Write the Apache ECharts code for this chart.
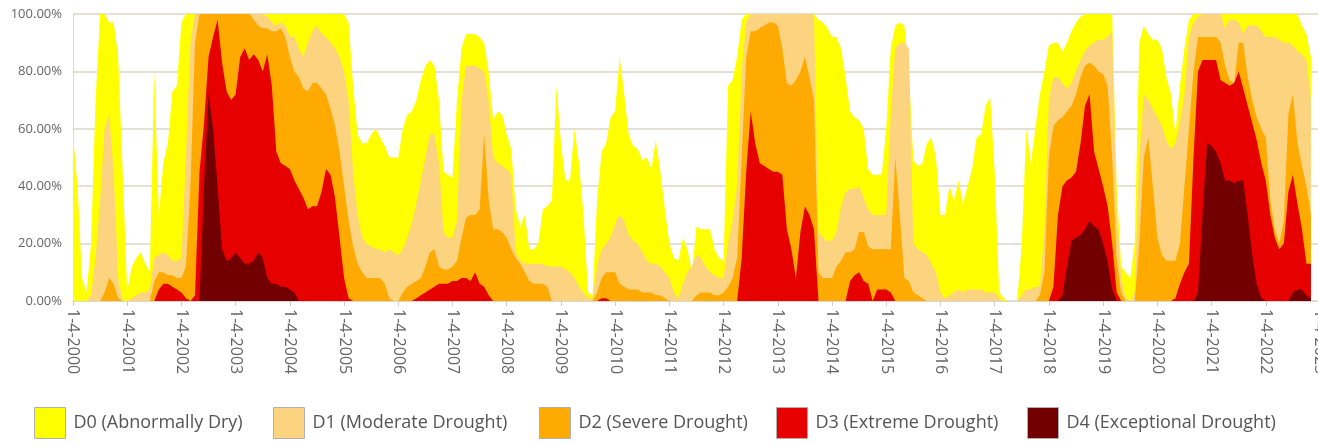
<!DOCTYPE html>
<html>
<head>
<meta charset="utf-8">
<script src="https://cdn.jsdelivr.net/npm/echarts@6/dist/echarts.min.js"></script>
<style>
html, body { margin: 0; padding: 0; background: #fff; }
#chart { width: 1318px; height: 445px; }
</style>
</head>
<body>
<div id="chart"></div>
<script>
// percent of area, one sample per month from 1-4-2000
var d0 = [
    58, 40, 8, 3, 20, 70, 100, 100, 97, 97, 85, 45,
    3, 12, 15, 17, 13, 10, 80, 30, 48, 55, 73, 75,
    97, 100, 100, 100, 100, 100, 100, 100, 100, 100, 100, 100,
    100, 100, 100, 100, 100, 100, 100, 100, 100, 100, 100, 100,
    100, 100, 100, 100, 100, 100, 100, 100, 100, 100, 100, 100,
    100, 97, 75, 58, 55, 55, 58, 60, 57, 54, 50, 50,
    50, 60, 65, 66, 70, 77, 82, 84, 82, 70, 45, 44,
    43, 70, 88, 93, 93, 93, 92, 90, 80, 63, 66, 65,
    58, 53, 32, 26, 30, 18, 18, 20, 32, 33, 35, 75,
    55, 42, 42, 60, 48, 30, 3, 2, 35, 52, 55, 64,
    66, 85, 72, 58, 54, 53, 49, 50, 46, 56, 45, 32,
    20, 15, 14, 22, 18, 10, 26, 25, 25, 25, 18, 15,
    14, 75, 77, 85, 98, 100, 100, 100, 100, 100, 100, 100,
    100, 100, 100, 100, 100, 100, 100, 100, 100, 98, 97, 95,
    92, 92, 88, 78, 66, 64, 63, 60, 46, 44, 44, 44,
    60, 88, 96, 97, 96, 80, 49, 47, 48, 55, 57, 50,
    30, 30, 40, 35, 42, 34, 40, 46, 57, 58, 68, 71,
    45, 3, 1, 0, 0, 0, 20, 60, 48, 60, 72, 80,
    89, 90, 90, 87, 90, 94, 97, 99, 100, 100, 100, 100,
    100, 100, 100, 40, 12, 10, 8, 20, 90, 96, 93, 91,
    91, 88, 78, 72, 58, 75, 88, 98, 100, 100, 100, 100,
    100, 100, 100, 100, 100, 100, 100, 100, 100, 100, 100, 100,
    100, 100, 100, 100, 100, 100, 100, 100, 96, 93, 85
];
var d1 = [
    0, 0, 0, 0, 2, 15, 35, 60, 65, 45, 8, 0,
    0, 1, 2, 3, 3, 4, 15, 16, 17, 16, 14, 14,
    15, 50, 90, 100, 100, 100, 100, 100, 100, 100, 100, 100,
    100, 100, 100, 100, 100, 100, 100, 99, 97, 96, 97, 96,
    92, 92, 88, 85, 90, 94, 96, 93, 92, 90, 88, 85,
    80, 70, 45, 30, 22, 20, 19, 18, 18, 17, 18, 17,
    16, 18, 22, 27, 34, 42, 50, 58, 58, 48, 24, 22,
    22, 28, 70, 82, 82, 82, 81, 80, 70, 50, 48, 47,
    46, 44, 17, 14, 13, 13, 13, 13, 13, 12, 12, 12,
    12, 11, 10, 8, 5, 3, 1, 1, 12, 18, 20, 22,
    27, 30, 28, 23, 21, 20, 17, 14, 13, 13, 12, 10,
    8, 3, 1, 6, 10, 12, 16, 15, 12, 10, 9, 8,
    8, 20, 28, 40, 80, 97, 100, 100, 100, 100, 100, 100,
    100, 100, 100, 100, 100, 100, 100, 100, 100, 24, 22, 21,
    21, 24, 33, 38, 39, 39, 40, 36, 32, 30, 30, 30,
    30, 65, 88, 90, 90, 88, 20, 18, 17, 16, 13, 10,
    3, 1, 2, 3, 4, 3, 4, 4, 4, 4, 3, 3,
    3, 1, 0, 0, 0, 0, 2, 4, 4, 5, 5, 25,
    70, 78, 78, 76, 74, 76, 80, 84, 87, 89, 90, 91,
    91, 92, 94, 30, 8, 1, 0, 3, 50, 72, 70, 67,
    64, 61, 56, 53, 55, 62, 72, 92, 97, 99, 100, 100,
    100, 100, 100, 95, 98, 98, 97, 93, 96, 96, 96, 94,
    92, 92, 92, 91, 90, 90, 89, 87, 86, 84, 70
];
var d2 = [
    0, 0, 0, 0, 0, 0, 0, 3, 8, 6, 1, 0,
    0, 0, 0, 0, 0, 0, 7, 10, 10, 9, 9, 8,
    8, 12, 40, 90, 100, 100, 100, 100, 100, 100, 100, 100,
    100, 100, 100, 100, 98, 96, 95, 95, 94, 94, 95, 92,
    85, 80, 78, 74, 73, 76, 76, 74, 72, 67, 61, 52,
    40, 28, 19, 13, 10, 8, 8, 8, 8, 6, 1, 0,
    0, 3, 5, 6, 7, 8, 12, 17, 18, 12, 11, 11,
    12, 14, 22, 29, 30, 30, 32, 58, 35, 25, 25, 24,
    22, 18, 15, 13, 10, 7, 6, 6, 6, 5, 0, 0,
    0, 0, 0, 0, 0, 0, 0, 0, 3, 8, 10, 10,
    10, 6, 5, 4, 4, 4, 3, 3, 3, 2, 2, 1,
    0, 0, 0, 0, 0, 0, 2, 3, 3, 3, 2, 2,
    3, 5, 8, 15, 50, 85, 94, 94, 95, 96, 97, 97,
    96, 88, 76, 75, 77, 80, 85, 78, 70, 10, 8, 8,
    8, 12, 14, 17, 17, 18, 24, 24, 19, 18, 18, 18,
    18, 18, 50, 30, 8, 7, 3, 2, 1, 0, 0, 0,
    0, 0, 0, 0, 0, 0, 0, 0, 0, 0, 0, 0,
    0, 0, 0, 0, 0, 0, 0, 0, 0, 0, 2, 10,
    50, 61, 63, 64, 66, 68, 72, 78, 82, 83, 82, 80,
    79, 75, 50, 15, 3, 0, 0, 0, 20, 50, 57, 40,
    22, 16, 14, 14, 14, 20, 40, 60, 80, 92, 92, 92,
    92, 92, 90, 82, 77, 76, 90, 90, 78, 70, 64, 60,
    57, 35, 25, 20, 28, 65, 72, 55, 47, 40, 30
];
var d3 = [
    0, 0, 0, 0, 0, 0, 0, 0, 0, 0, 0, 0,
    0, 0, 0, 0, 0, 0, 0, 4, 6, 6, 5, 4,
    3, 1, 0, 2, 45, 62, 85, 92, 98, 83, 73, 70,
    72, 85, 88, 84, 86, 84, 80, 86, 75, 52, 48, 47,
    46, 42, 39, 36, 32, 33, 33, 38, 46, 44, 36, 22,
    8, 1, 0, 0, 0, 0, 0, 0, 0, 0, 0, 0,
    0, 0, 0, 0, 1, 2, 3, 4, 5, 6, 6, 6,
    7, 7, 8, 8, 7, 10, 6, 5, 2, 0, 0, 0,
    0, 0, 0, 0, 0, 0, 0, 0, 0, 0, 0, 0,
    0, 0, 0, 0, 0, 0, 0, 0, 0, 1, 1, 0,
    0, 0, 0, 0, 0, 0, 0, 0, 0, 0, 0, 0,
    0, 0, 0, 0, 0, 0, 0, 0, 0, 0, 0, 0,
    0, 0, 0, 0, 15, 45, 66, 55, 48, 47, 46, 45,
    45, 44, 25, 18, 8, 24, 33, 30, 25, 0, 0, 0,
    0, 0, 0, 0, 7, 9, 10, 7, 6, 0, 4, 4,
    4, 3, 0, 0, 0, 0, 0, 0, 0, 0, 0, 0,
    0, 0, 0, 0, 0, 0, 0, 0, 0, 0, 0, 0,
    0, 0, 0, 0, 0, 0, 0, 0, 0, 0, 0, 0,
    0, 5, 30, 40, 42, 43, 45, 55, 68, 72, 52, 46,
    40, 33, 20, 3, 0, 0, 0, 0, 0, 0, 0, 0,
    0, 0, 0, 0, 1, 6, 10, 13, 50, 80, 84, 84,
    84, 84, 77, 76, 75, 76, 80, 74, 68, 62, 56, 48,
    42, 30, 22, 18, 20, 38, 44, 34, 25, 13, 13
];
var d4 = [
    0, 0, 0, 0, 0, 0, 0, 0, 0, 0, 0, 0,
    0, 0, 0, 0, 0, 0, 0, 0, 0, 0, 0, 0,
    0, 0, 0, 0, 0, 40, 72, 60, 40, 18, 14, 15,
    17, 15, 13, 13, 14, 17, 15, 8, 6, 6, 5, 5,
    4, 3, 0, 0, 0, 0, 0, 0, 0, 0, 0, 0,
    0, 0, 0, 0, 0, 0, 0, 0, 0, 0, 0, 0,
    0, 0, 0, 0, 0, 0, 0, 0, 0, 0, 0, 0,
    0, 0, 0, 0, 0, 0, 0, 0, 0, 0, 0, 0,
    0, 0, 0, 0, 0, 0, 0, 0, 0, 0, 0, 0,
    0, 0, 0, 0, 0, 0, 0, 0, 0, 0, 0, 0,
    0, 0, 0, 0, 0, 0, 0, 0, 0, 0, 0, 0,
    0, 0, 0, 0, 0, 0, 0, 0, 0, 0, 0, 0,
    0, 0, 0, 0, 0, 0, 0, 0, 0, 0, 0, 0,
    0, 0, 0, 0, 0, 0, 0, 0, 0, 0, 0, 0,
    0, 0, 0, 0, 0, 0, 0, 0, 0, 0, 0, 0,
    0, 0, 0, 0, 0, 0, 0, 0, 0, 0, 0, 0,
    0, 0, 0, 0, 0, 0, 0, 0, 0, 0, 0, 0,
    0, 0, 0, 0, 0, 0, 0, 0, 0, 0, 0, 0,
    0, 0, 0, 2, 12, 21, 22, 23, 25, 28, 26, 25,
    20, 14, 4, 0, 0, 0, 0, 0, 0, 0, 0, 0,
    0, 0, 0, 0, 0, 0, 0, 0, 0, 3, 30, 55,
    54, 52, 48, 42, 42, 41, 42, 42, 30, 16, 6, 1,
    0, 0, 0, 0, 0, 0, 3, 4, 4, 2, 1
];

var names = ['D0 (Abnormally Dry)', 'D1 (Moderate Drought)', 'D2 (Severe Drought)',
    'D3 (Extreme Drought)', 'D4 (Exceptional Drought)'];
var colors = ['#ffff00', '#fcd37f', '#ffaa00', '#e60000', '#730000'];
var levels = [d0, d1, d2, d3, d4];

// month categories 1-4-2000 ... 1-4-2023, a label every 12th
var dates = [];
for (var i = 0; i <= 276; i++) {
    dates.push((i % 12 + 1) + '-4-' + (2000 + Math.floor(i / 12)));
}

var legendLeft = [34, 273, 539, 776, 1027];

var chart = echarts.init(document.getElementById('chart'));
chart.setOption({
    animation: false,
    textStyle: { fontFamily: 'Open Sans' },
    // the axis runs on past the right edge of the picture, to 1-4-2023
    grid: { left: 73, top: 14, width: 1247, height: 287, outerBoundsMode: 'none' },
    legend: names.map(function(n, i) {
        return {
            data: [n],
            left: legendLeft[i],
            top: 407,
            padding: 0,
            icon: 'rect',
            itemWidth: 31,
            itemHeight: 31,
            itemStyle: { borderColor: '#b0b0b0', borderWidth: 1 },
            textStyle: { fontSize: 18, color: '#555', fontFamily: 'Open Sans', padding: [0, 0, 0, 3] }
        };
    }),
    xAxis: {
        type: 'category',
        data: dates,
        boundaryGap: false,
        axisLine: { lineStyle: { color: '#d8d8d8' } },
        axisTick: { interval: 11, length: 5, lineStyle: { color: '#cccccc' } },
        axisLabel: { interval: 11, rotate: -90, margin: 8, fontSize: 16, color: '#666', showMaxLabel: true },
        splitLine: { show: false }
    },
    yAxis: {
        type: 'value',
        min: 0,
        max: 100,
        interval: 20,
        axisLine: { show: true, lineStyle: { color: '#d8d8d8' } },
        axisTick: { show: false },
        axisLabel: {
            fontSize: 13,
            color: '#666',
            margin: 11,
            formatter: function(v) { return v.toFixed(2) + '%'; }
        },
        splitLine: { lineStyle: { color: '#e4e0d3', width: 2 } }
    },
    series: names.map(function(n, i) {
        return {
            name: n,
            type: 'line',
            data: levels[i],
            symbol: 'none',
            color: colors[i],
            lineStyle: { width: 0 },
            areaStyle: { color: colors[i], opacity: 1 }
        };
    })
});
</script>
</body>
</html>
